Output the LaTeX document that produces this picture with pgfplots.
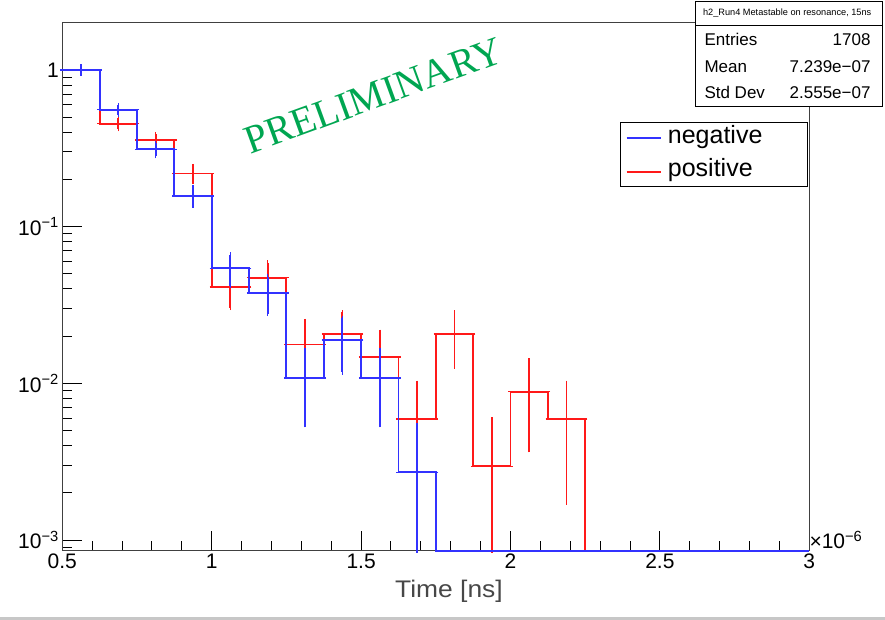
\documentclass[border=0pt]{standalone}
\usepackage{pgfplots}
\pgfplotsset{compat=1.18}
\usepackage{fontspec}
\setmainfont{Liberation Sans}
\newfontfamily\prelimfont{Liberation Serif}
\definecolor{rootblue}{RGB}{50,50,255}
\definecolor{rootred}{RGB}{255,25,25}
\definecolor{prelim}{RGB}{0,166,81}
\begin{document}
\begin{tikzpicture}
\useasboundingbox (-62.3pt,-69.3pt) rectangle (822.7pt,550.7pt);
\fill[black!22] (-62.3pt,-69.3pt) rectangle (822.7pt,-66.6pt);
\begin{axis}[
  at={(0pt,0pt)}, anchor=south west,
  scale only axis, width=747pt, height=528pt,
  xmin=0.5, xmax=3, ymode=log, ymin=8.55e-4, ymax=2,
  clip=false,
  axis line style={black!75, line width=1.1pt},
  tick style={black, line width=1pt},
  tick align=inside, xtick pos=bottom, ytick pos=left,
  major tick length=20pt, minor tick length=10pt,
  xtick={0.5,1,1.5,2,2.5,3}, xticklabels={0.5,1,1.5,2,2.5,3},
  minor xtick={0.6,0.7,0.8,0.9,1.1,1.2,1.3,1.4,1.6,1.7,1.8,1.9,2.1,2.2,2.3,2.4,2.6,2.7,2.8,2.9},
  ytick={0.001,0.01,0.1,1},
  yticklabels={10\textsuperscript{−3},10\textsuperscript{−2},10\textsuperscript{−1},1},
  minor ytick={9e-4,2e-3,3e-3,4e-3,5e-3,6e-3,7e-3,8e-3,9e-3,2e-2,3e-2,4e-2,5e-2,6e-2,7e-2,8e-2,9e-2,0.2,0.3,0.4,0.5,0.6,0.7,0.8,0.9},
  tick label style={font=\fontsize{21}{24}\selectfont},
]
% positive (red) histogram
\addplot[const plot mark left, rootred, line width=1.9pt, mark=none] coordinates {
 (0.5,1.0) (0.625,0.4543) (0.75,0.3569) (0.875,0.2183) (1.0,0.0413) (1.125,0.0472)
 (1.25,0.0177) (1.375,0.0206) (1.5,0.0147) (1.625,0.0059) (1.75,0.0206) (1.875,0.00295)
 (2.0,0.00885) (2.125,0.0059) (2.25,8.55e-4) (3.0,8.55e-4)};
\addplot[draw=none, mark=none,
  error bars/.cd, x dir=both, x explicit, y dir=both, y explicit, error mark=-,
  error bar style={draw=rootred, line width=1.9pt},
  error mark options={draw=rootred, mark size=2.2pt, line width=1.5pt}] coordinates {
 (0.5625,1.0) +- (0.0625,0.0543)
 (0.6875,0.4543) +- (0.0625,0.0366)
 (0.8125,0.3569) +- (0.0625,0.0324)
 (0.9375,0.2183) +- (0.0625,0.0254)
 (1.0625,0.0413) +- (0.0625,0.0110)
 (1.1875,0.0472) +- (0.0625,0.0118)
 (1.3125,0.0177) +- (0.0625,0.00723)
 (1.4375,0.0206) +- (0.0625,0.0078)
 (1.5625,0.0147) +- (0.0625,0.0066)
 (1.6875,0.0059) +- (0.0625,0.00417)
 (1.8125,0.0206) +- (0.0625,0.0078)
 (1.9375,0.00295) += (0.0625,0.00295) -= (0.0625,0.002095)
 (2.0625,0.00885) +- (0.0625,0.00511)
 (2.1875,0.0059) +- (0.0625,0.00417)};
% negative (blue) histogram
\addplot[const plot mark left, rootblue, line width=1.9pt, mark=none] coordinates {
 (0.5,1.0) (0.625,0.5568) (0.75,0.3108) (0.875,0.1568) (1.0,0.0541) (1.125,0.0378)
 (1.25,0.0108) (1.375,0.0189) (1.5,0.0108) (1.625,0.0027) (1.75,8.55e-4) (3.0,8.55e-4)};
\addplot[draw=none, mark=none,
  error bars/.cd, x dir=both, x explicit, y dir=both, y explicit, error mark=-,
  error bar style={draw=rootblue, line width=1.9pt},
  error mark options={draw=rootblue, mark size=2.2pt, line width=1.5pt}] coordinates {
 (0.5625,1.0) +- (0.0625,0.052)
 (0.6875,0.5568) +- (0.0625,0.0388)
 (0.8125,0.3108) +- (0.0625,0.029)
 (0.9375,0.1568) +- (0.0625,0.0206)
 (1.0625,0.0541) +- (0.0625,0.0121)
 (1.1875,0.0378) +- (0.0625,0.0101)
 (1.3125,0.0108) +- (0.0625,0.0054)
 (1.4375,0.0189) +- (0.0625,0.00715)
 (1.5625,0.0108) +- (0.0625,0.0054)
 (1.6875,0.0027) += (0.0625,0.0027) -= (0.0625,0.001845)};
\end{axis}
% multiplier and axis title
\node[anchor=base west, inner sep=0pt, font=\fontsize{21}{24}\selectfont] at (747pt,1.7pt) {×10\textsuperscript{−6}};
\node[anchor=base, inner sep=0pt, text=black!72, xscale=1.1, font=\fontsize{24}{28}\selectfont] at (386.7pt,-47pt) {Time [ns]};
% PRELIMINARY
\node[rotate=20, text=prelim, font=\prelimfont\fontsize{40}{42}\selectfont] at (311pt,455pt) {PRELIMINARY};
% stats box
\draw[black, line width=0.8pt, fill=white] (633.4pt,444.7pt) rectangle (820.4pt,549.6pt);
\draw[black, line width=0.8pt] (633.4pt,525pt) -- (820.4pt,525pt);
\node[anchor=base, inner sep=0pt, font=\fontsize{9.2}{11}\selectfont] at (724.9pt,535.4pt) {h2\_Run4 Metastable on resonance, 15ns};
\node[anchor=base west, inner sep=0pt, font=\fontsize{17}{20}\selectfont] at (642pt,505.2pt) {Entries};
\node[anchor=base east, inner sep=0pt, font=\fontsize{17}{20}\selectfont] at (808.4pt,505.2pt) {1708};
\node[anchor=base west, inner sep=0pt, font=\fontsize{17}{20}\selectfont] at (642pt,478.4pt) {Mean};
\node[anchor=base east, inner sep=0pt, font=\fontsize{17}{20}\selectfont] at (808.4pt,478.4pt) {7.239e−07};
\node[anchor=base west, inner sep=0pt, font=\fontsize{17}{20}\selectfont] at (642pt,452.4pt) {Std Dev};
\node[anchor=base east, inner sep=0pt, font=\fontsize{17}{20}\selectfont] at (808.4pt,452.4pt) {2.555e−07};
% legend
\draw[black, line width=0.8pt, fill=white] (558.4pt,364pt) rectangle (745pt,428.4pt);
\draw[rootblue, line width=1.8pt] (564.4pt,413pt) -- (598.7pt,413pt);
\draw[rootred, line width=1.8pt] (564.4pt,379pt) -- (598.7pt,379pt);
\node[anchor=base west, inner sep=0pt, font=\fontsize{25}{28}\selectfont] at (605.4pt,406.7pt) {negative};
\node[anchor=base west, inner sep=0pt, font=\fontsize{25}{28}\selectfont] at (605.4pt,374pt) {positive};
\end{tikzpicture}
\end{document}
